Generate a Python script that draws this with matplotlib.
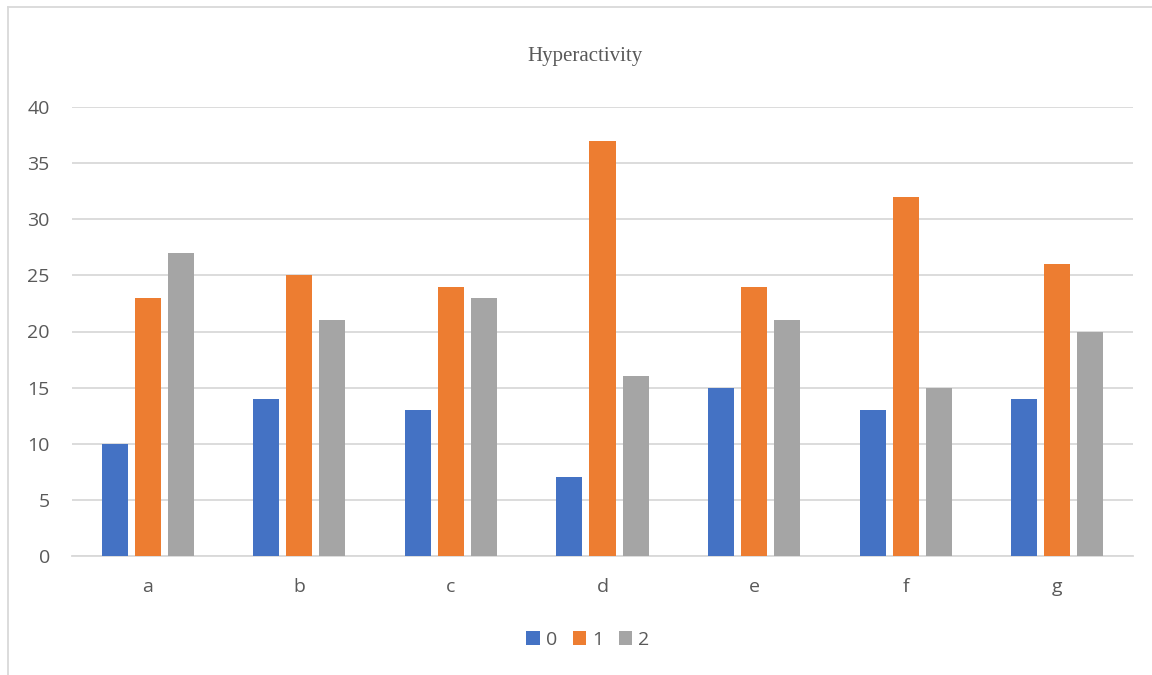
import numpy as np
import matplotlib.pyplot as plt
from matplotlib.lines import Line2D

categories = ['a', 'b', 'c', 'd', 'e', 'f', 'g']
series_names = ['0', '1', '2']
vals_0 = [10, 14, 13, 7, 15, 13, 14]
vals_1 = [23, 25, 24, 37, 24, 32, 26]
vals_2 = [27, 21, 23, 16, 21, 15, 20]
colors = ['#4472C4', '#ED7D31', '#A5A5A5']

fig = plt.figure(figsize=(11.52, 6.75), dpi=100)
ax = fig.add_axes([72 / 1152, 1 - 556 / 675, (1133 - 72) / 1152, (556 - 107) / 675])

x = np.arange(len(categories))
w = 0.172
step = 0.218
for i, (vals, name) in enumerate(zip([vals_0, vals_1, vals_2], series_names)):
    ax.bar(x + (i - 1) * step, vals, width=w, color=colors[i], label=name, zorder=3)

ax.set_xlim(-0.5, len(categories) - 0.5)
ax.set_ylim(0, 40)
ax.set_yticks(range(0, 41, 5))
ax.set_xticks(x)
ax.set_xticklabels(categories)
ax.grid(axis='y', color='#d9d9d9', linewidth=1.3, zorder=0)
for s in ['top', 'right', 'left']:
    ax.spines[s].set_visible(False)
ax.spines['bottom'].set_color('#d9d9d9')
ax.spines['bottom'].set_linewidth(1.3)
ax.tick_params(length=0, labelsize=14, colors='#595959')
ax.tick_params(axis='x', pad=16)
ax.tick_params(axis='y', pad=16)
for lab in ax.get_xticklabels() + ax.get_yticklabels():
    lab.set_family('Open Sans')

fig.text(585 / 1152, 1 - 57 / 675, 'Hyperactivity', ha='center', va='center',
         fontsize=15, family='Liberation Serif', color='#595959')

leg = fig.legend(loc='center', bbox_to_anchor=(588 / 1152, 1 - 640 / 675), ncol=3,
                 frameon=False, handlelength=0.7, handleheight=0.7,
                 handletextpad=0.3, columnspacing=0.8,
                 prop={'family': 'Open Sans', 'size': 14})
for t in leg.get_texts():
    t.set_color('#595959')

# outer chart border (left and top edges)
fig.add_artist(Line2D([8 / 1152, 8 / 1152], [0, 1 - 7 / 675], color='#d9d9d9', linewidth=1.3))
fig.add_artist(Line2D([8 / 1152, 1], [1 - 7 / 675, 1 - 7 / 675], color='#d9d9d9', linewidth=1.3))

fig.savefig('out.png', dpi=100)
